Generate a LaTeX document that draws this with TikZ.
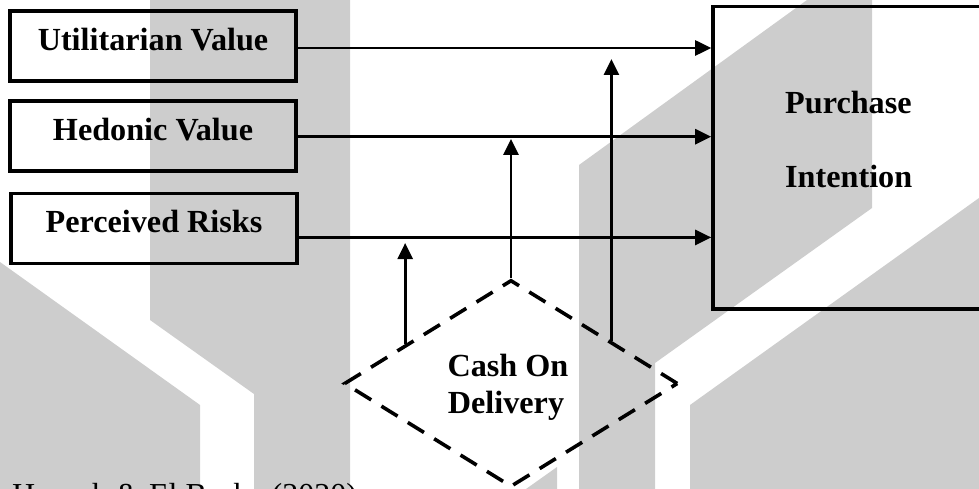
\documentclass[tikz,border=0pt]{standalone}
\usepackage{fontspec}
\setmainfont{Liberation Serif}
\usetikzlibrary{arrows.meta,shapes.geometric,calc}
\definecolor{wm}{RGB}{205,205,205}
\begin{document}
\begin{tikzpicture}[x=1pt,y=-1pt,
  lblfont/.style={font=\bfseries\fontsize{32.2}{38}\selectfont},
  box/.style={draw, line width=3.6pt, minimum width=285.5pt, minimum height=70pt,
    inner sep=0pt, lblfont, text height=21pt, text depth=12pt},
  conn/.style={line width=2.7pt, -{Triangle[length=16pt,width=15pt]}},
  lbl/.style={lblfont, inner sep=0pt},
]
\useasboundingbox (0,0) rectangle (979,489);
% watermark
\fill[wm] (150,0) -- (350,0) -- (350,489) -- (254,489) -- (254,394) -- (150,320) -- cycle;
\fill[wm] (0,262) -- (200,405) -- (200,489) -- (0,489) -- cycle;
\fill[wm] (579,489) -- (579,165) -- (807,0) -- (872,0) -- (872,208) -- (655,363) -- (655,489) -- cycle;
\fill[wm] (690,489) -- (690,405) -- (979,198) -- (979,489) -- cycle;
\fill[wm] (526,489) -- (557,467) -- (557,489) -- cycle;

% nodes
\node[box] (uv) at (153,46.3) {Utilitarian Value};
\node[box] (hv) at (153,136.3) {Hedonic Value};
\node[box] (pr) at (154,228.4) {Perceived Risks};
\node[draw, line width=3.6pt, minimum width=294pt, minimum height=302.2pt, inner sep=0pt] (pi) at (860,157.6) {};
\node[lbl, anchor=base west] (pt1) at (785,114) {Purchase};
\node[lbl, anchor=base west] (pt2) at (785,187) {Intention};

\node[diamond, draw, dashed, dash pattern=on 19pt off 12pt, line width=3.6pt,
  minimum width=334pt, minimum height=207pt, inner sep=0pt] (cod) at (511,383.5) {};
\node[lbl, anchor=base] (ct1) at (508,376) {Cash On};
\node[lbl, anchor=base] (ct2) at (506,413) {Delivery};

\node[anchor=base west, inner sep=0pt, font=\fontsize{32}{38}\selectfont] (src) at (12,505) {Hasnah \& El Basha (2020)};

% horizontal connectors
\draw[conn] ([yshift=-1.7pt]uv.east) -- ([yshift=-1.7pt]uv.east -| pi.west);
\draw[conn] ([yshift=-0.4pt]hv.east) -- ([yshift=-0.4pt]hv.east -| pi.west);
\draw[conn] ([yshift=-9pt]pr.east) -- ([yshift=-9pt]pr.east -| pi.west);

% moderating connectors
\coordinate (lb) at ($(cod.west)!0.373!(cod.north)$);
\coordinate (rb) at ($(cod.north)!0.595!(cod.east)$);
\coordinate (ltip) at (406,243);
\coordinate (mtip) at (510,139);
\coordinate (rtip) at (610,59);
\draw[conn] (lb) -- (lb |- ltip);
\draw[conn] (cod.north) -- (cod.north |- mtip);
\draw[conn] (rb) -- (rb |- rtip);
\end{tikzpicture}
\end{document}
